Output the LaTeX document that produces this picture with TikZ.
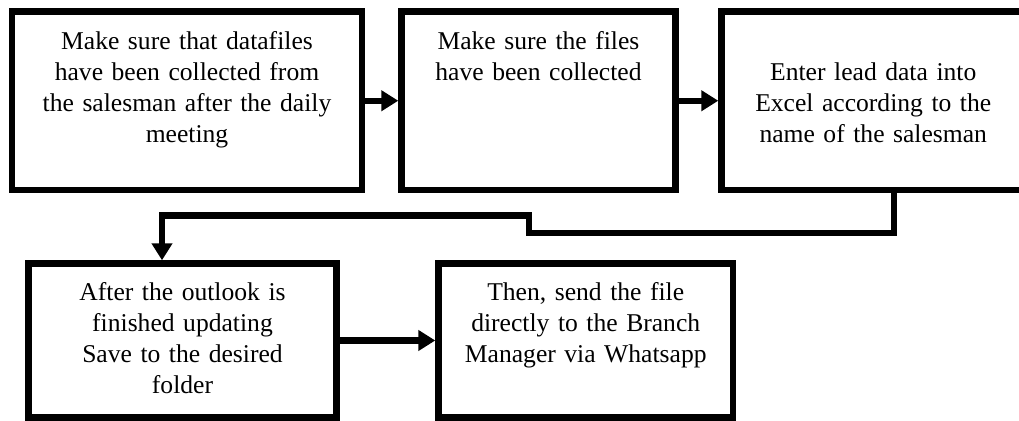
\documentclass[tikz,border=0pt]{standalone}
\usepackage{fontspec}
\setmainfont{Liberation Serif}
\usepackage{tikz}
\usetikzlibrary{arrows.meta,positioning}

\begin{document}
\begin{tikzpicture}[>={Triangle[length=8.5pt,width=10pt]},node distance=3cm,on grid,
	stepbox/.style={draw,line width=3.2pt,inner sep=0pt,align=center,font=\fontsize{12.8pt}{15.5pt}\selectfont},
	flow/.style={->,line width=3.2pt}]
		\useasboundingbox (-93.5pt,-160.125pt) rectangle (416pt,50.375pt);
		\node[stepbox,text width=175pt,text height=19.25pt,text depth=70pt] (collect) {Make sure that datafiles\\ have been collected from\\ the salesman after the daily\\ meeting};
		\node[stepbox,text width=137pt,text height=19.25pt,text depth=70pt] (check) [right=175.75pt of collect] {Make sure the files\\ have been collected};
		\node[stepbox,text width=151.75pt,text height=34.75pt,text depth=54.5pt] (enter) [right=167.375pt of check] {Enter lead data into\\ Excel according to the\\ name of the salesman};
		\node[stepbox,text width=154pt,text height=18.75pt,text depth=58.25pt] (save) [below left=119.875pt and 2.25pt of collect] {After the outlook is\\ finished updating\\ Save to the desired\\ folder};
		\node[stepbox,text width=147.25pt,text height=18.75pt,text depth=58.25pt] (send) [right=201.625pt of save] {Then, send the file\\ directly to the Branch\\ Manager via Whatsapp};

		\coordinate (low)  at (171pt,-66.125pt);
		\coordinate (high) at (171pt,-57.375pt);

		\draw[flow] (collect) -- (check);
		\draw[flow] (check) -- (enter);
		\draw[flow] ([xshift=10.375pt]enter.south) |- (low) -- (high) -| ([xshift=-10.25pt]save.north);
		\draw[flow] (save) -- (send);
	\end{tikzpicture}
\end{document}
